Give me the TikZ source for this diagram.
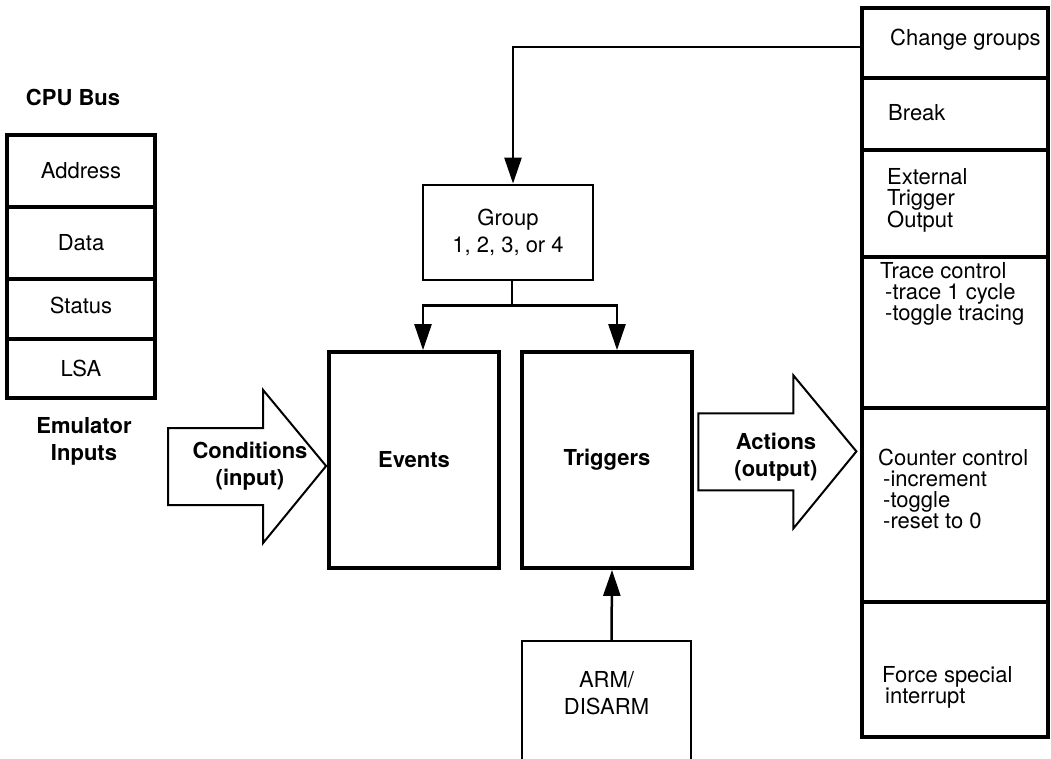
\documentclass[tikz,border=0pt]{standalone}
\usepackage{fontspec}
\setmainfont{TeX Gyre Heros}
\usetikzlibrary{arrows.meta,calc}

\begin{document}
\begin{tikzpicture}[x=1pt, y=-1pt, >={Triangle[length=26pt,width=17pt]},
	every node/.style={font=\fontsize{22}{27}\selectfont, align=center},
	bold/.style={font=\fontsize{22}{27}\selectfont\bfseries},
	lcell/.style={draw, line width=3.2pt, minimum width=148pt},
	bigbox/.style={draw, line width=3.8pt, minimum width=170pt, minimum height=216pt, bold},
	rcell/.style={draw, line width=3.2pt, minimum width=186pt},
	rtext/.style={anchor=west, inner sep=0pt, align=left, font=\fontsize{22}{21}\selectfont},
	bigarr/.style={draw, line width=2pt, line join=miter},
	link/.style={line width=2.5pt}]
	\useasboundingbox (0,0) rectangle (1051,758);
	% CPU bus inputs
	\node[bold] (cpubus) at (73,97) {CPU Bus};
	\node[lcell, minimum height=72pt] (addr) at (81,171) {Address};
	\node[lcell, minimum height=72pt] (data) at (81,243) {Data};
	\node[lcell, minimum height=60pt] (stat) at (81,309) {\raisebox{7pt}{Status}};
	\node[lcell, minimum height=59pt] (lsa) at (81,368.5) {LSA};
	\node[bold] (emul) at (84,441) {Emulator\\Inputs};
	% middle blocks
	\node[draw, line width=2.8pt, minimum width=170pt, minimum height=95pt] (group) at (508,232.5) {Group\\1, 2, 3, or 4};
	\node[bigbox] (events) at (414,460) {Events};
	\node[bigbox] (trig) at (607,460) {Triggers};
	\node[minimum width=169pt, minimum height=104pt, anchor=north] (arm) at (606.5,641) {ARM/\\DISARM};
	\draw[link] ($(arm.north west)+(0,118)$) -- (arm.north west) -- (arm.north east) -- ++(0,118);
	% actions
	\node[rcell, minimum height=70pt] (chg) at (955,43) {};
	\node[rcell, minimum height=72pt] (brk) at (955,114) {};
	\node[rcell, minimum height=107pt] (ext) at (955,203.5) {};
	\node[rcell, minimum height=151pt] (trc) at (955,332.5) {};
	\node[rcell, minimum height=194pt] (cnt) at (955,505) {};
	\node[rcell, minimum height=135pt] (frc) at (955,669.5) {};
	\node[rtext] (chgt) at (890,40) {Change groups};
	\node[rtext] (brkt) at (888,113) {Break};
	\node[rtext] (extt) at (887,200) {External\\Trigger\\Output};
	\node[rtext] (trct) at (880,294) {Trace control\\\hspace*{5pt}-trace 1 cycle\\\hspace*{5pt}-toggle tracing};
	\node[rtext] (cntt) at (878,489) {Counter control\\\hspace*{5pt}-increment\\\hspace*{5pt}-toggle\\\hspace*{5pt}-reset to 0};
	\node[rtext] (frct) at (882,687) {Force special\\\hspace*{3pt}interrupt};
	% big arrows
	\coordinate (ctip) at ($(events.west)+(-1,6)$);
	\coordinate (atip) at ($(cnt.north west)+(-4,45)$);
	\foreach \tip in {ctip,atip}
		\draw[bigarr] (\tip) -- ++(-63,-76) -- ++(0,38) -- ++(-95,0) -- ++(0,77) -- ++(95,0) -- ++(0,38) -- cycle;
	\node[bold] (cond) at (250,466) {Conditions\\(input)};
	\node[bold] (act) at (776,457) {Actions\\(output)};
	% connectors
	\draw[link,->] ([yshift=-4pt]chg.west) -| ([xshift=5pt]group.north);
	\draw[link] ([xshift=4pt]group.south) -- ++(0,24) coordinate (split);
	\draw[link,->] (split) -| ([xshift=9pt]events.north);
	\draw[link,->] (split) -| ([xshift=10pt]trig.north);
	\draw[link,->] ([xshift=5pt]arm.north) -- ([xshift=5pt]trig.south);
\end{tikzpicture}
\end{document}
